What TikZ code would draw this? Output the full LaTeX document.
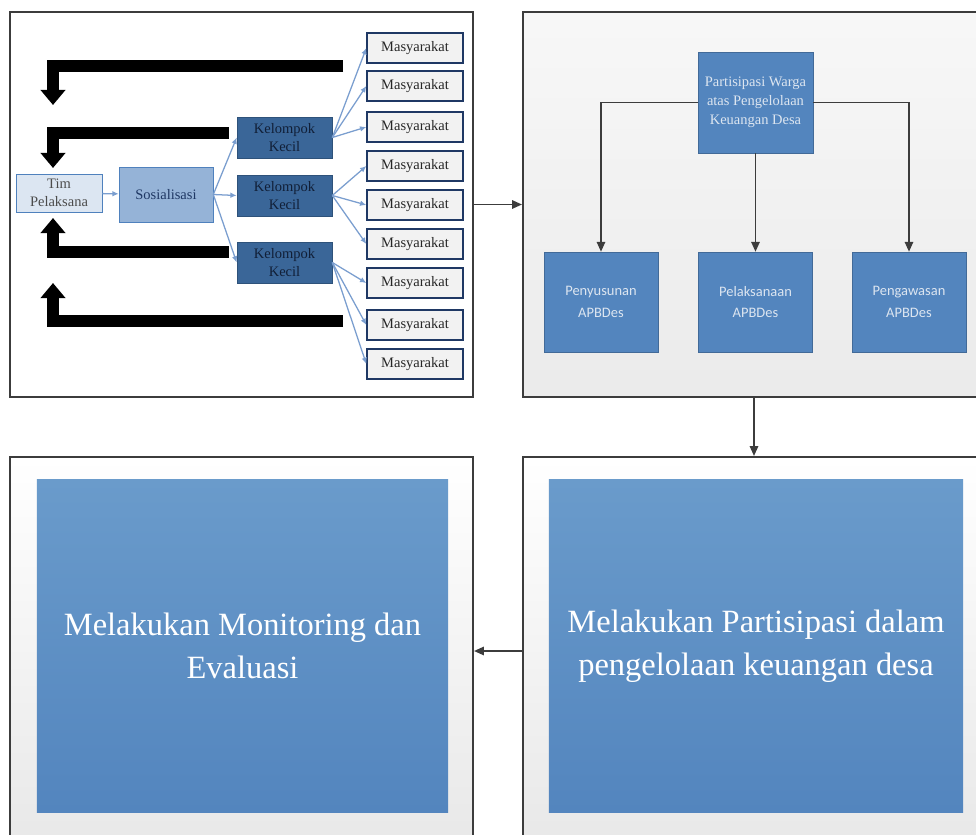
\documentclass[tikz,border=0pt]{standalone}
\usepackage{fontspec}
\setmainfont{Liberation Serif}
\newfontfamily\calib{Carlito}
\usetikzlibrary{arrows.meta}
\definecolor{framegray}{HTML}{3C3C3C}
\definecolor{lineblue}{HTML}{7A9ECF}
\definecolor{edgeblue}{HTML}{4F81BD}
\definecolor{paleblue}{HTML}{DCE6F2}
\definecolor{midblue}{HTML}{95B3D7}
\definecolor{darkblue}{HTML}{3A6698}
\definecolor{navy}{HTML}{1F3864}
\definecolor{boxtop}{HTML}{6A9BCB}
\definecolor{boxbot}{HTML}{5385BE}
\definecolor{softwhite}{HTML}{DCE5F0}
\begin{document}
\begin{tikzpicture}[x=0.025cm,y=-0.025cm,
    panel/.style={draw=framegray,line width=1.4pt,inner sep=0pt,
        top color=white,bottom color=black!9},
    bigbox/.style={inner sep=0pt,top color=boxtop,bottom color=boxbot,
        minimum height=8.3cm,text=white,align=center,
        font=\fontsize{23.1}{30.6}\selectfont},
    midbox/.style={inner sep=0pt,fill=boxbot,draw=boxbot!80!black,
        minimum width=2.85cm,minimum height=2.5cm,text=softwhite,align=center,
        font=\calib\fontsize{10.3}{15.4}\selectfont},
    small/.style={inner sep=0pt,align=center,
        font=\fontsize{10.3}{12.8}\selectfont},
    masy/.style={small,draw=navy,line width=0.9pt,fill=black!5,text=black!85,
        minimum width=2.4cm,minimum height=0.75cm},
    kel/.style={small,draw=darkblue!80!black,fill=darkblue,text=navy!55!black,
        minimum width=2.375cm,minimum height=1.025cm},
    flow/.style={draw=lineblue,line width=0.9pt,-{Latex[length=4.5pt,width=4pt]}},
    conn/.style={draw=framegray,line width=1.1pt,-{Triangle[length=7pt,width=6pt]}},
    back/.style={draw=black,line width=0.3cm,-{Triangle[length=0.375cm,width=0.6cm]}}]
\useasboundingbox (0,0) rectangle (976,835);
\clip (0,0) rectangle (976,835);

\node[panel,fill=white,top color=white,bottom color=white,
    minimum width=11.575cm,minimum height=9.625cm] (pnlA) at (241.5,204.5) {};
\node[panel,top color=black!3,bottom color=black!8,
    minimum width=11.55cm,minimum height=9.625cm] (pnlB) at (754,204.5) {};
\node[panel,minimum width=11.55cm,minimum height=9.7cm] (pnlC) at (754,651) {};
\node[panel,minimum width=11.575cm,minimum height=9.7cm] (pnlD) at (241.5,651) {};

\node[small,draw=edgeblue,fill=paleblue,text=black!70,
    minimum width=2.15cm,minimum height=0.95cm] (tim) at (59,193) {Tim\\Pelaksana};
\node[small,draw=edgeblue,fill=midblue,text=navy,
    minimum width=2.35cm,minimum height=1.375cm] (sos) at (166,194.5) {Sosialisasi};
\node[kel] (kk1) at (284.5,137.5) {Kelompok\\Kecil};
\node[kel] (kk2) at (284.5,195.5) {Kelompok\\Kecil};
\node[kel] (kk3) at (284.5,262.5) {Kelompok\\Kecil};
\foreach \n/\yy in {1/48,2/86,3/127,4/166,5/205,6/244,7/283,8/325,9/364}
    \node[masy] (m\n) at (415,\yy) {Masyarakat};

\draw[flow] (tim) -- (sos);
\foreach \k in {1,2,3}
    \draw[flow] (sos.east) -- (kk\k.west);
\foreach \k/\m in {1/1,1/2,1/3,2/4,2/5,2/6,3/7,3/8,3/9}
    \draw[flow] (kk\k.east) -- (m\m.west);

\coordinate (fbA) at (343,66);
\coordinate (tipA) at (53,105);
\coordinate (fbB) at (229,133);
\coordinate (tipB) at (53,168);
\coordinate (fbC) at (229,252);
\coordinate (tipC) at (53,218);
\coordinate (fbD) at (343,321);
\coordinate (tipD) at (53,283);
\draw[back] (fbA) -| (tipA);
\draw[back] (fbB) -| (tipB);
\draw[back] (fbC) -| (tipC);
\draw[back] (fbD) -| (tipD);

\node[small,inner sep=0pt,fill=boxbot,draw=boxbot!80!black,text=softwhite,
    font=\fontsize{10.3}{13.5}\selectfont,
    minimum width=2.875cm,minimum height=2.525cm] (part) at (755.5,102.5)
    {Partisipasi Warga\\atas Pengelolaan\\Keuangan Desa};
\node[midbox] (pen) at (601,302) {Penyusunan\\APBDes};
\node[midbox] (pel) at (755.5,302) {Pelaksanaan\\APBDes};
\node[midbox] (pgw) at (909,302) {Pengawasan\\APBDes};
\draw[conn] (part.west) -| (pen.north);
\draw[conn] (part) -- (pel);
\draw[conn] (part.east) -| (pgw.north);

\node[bigbox,minimum width=10.275cm] (mon) at (242.5,646)
    {Melakukan Monitoring dan\\Evaluasi};
\node[bigbox,minimum width=10.35cm] (ptp) at (756,646)
    {Melakukan Partisipasi dalam\\pengelolaan keuangan desa};

\draw[conn] (pnlA) -- (pnlB);
\draw[conn] (pnlB) -- (pnlC);
\draw[conn] (pnlC) -- (pnlD);
\end{tikzpicture}
\end{document}
